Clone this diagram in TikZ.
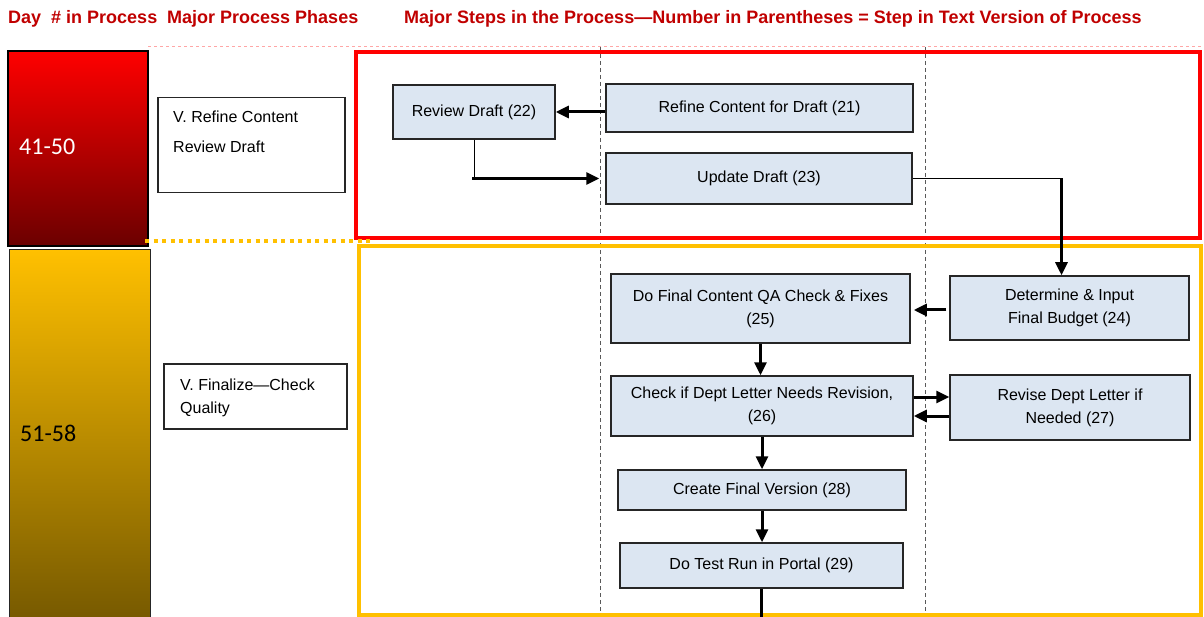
\documentclass[tikz,border=0pt]{standalone}
\usepackage{fontspec}
\setmainfont{Liberation Sans}
\newfontfamily\dayfont{Carlito}
\usetikzlibrary{arrows.meta}

\definecolor{hdrred}{HTML}{C00000}
\definecolor{stepblue}{HTML}{DCE6F2}
\definecolor{gold}{HTML}{FFC000}
\definecolor{boxline}{HTML}{262626}

\def\px{1pt}
\tikzstyle{header}=[anchor=base west,inner sep=0pt,text=hdrred,font=\bfseries\fontsize{18}{20}\selectfont]
\tikzstyle{daytext}=[anchor=west,inner sep=0pt,font=\dayfont\fontsize{24}{28}\selectfont]
\tikzstyle{phase}=[draw=boxline,line width=1.5pt,fill=white,inner sep=0pt,anchor=north west]
\tikzstyle{phasetext}=[anchor=north west,inner sep=0pt,align=left]
\tikzstyle{stepbox}=[draw=boxline,line width=1.5pt,fill=stepblue,inner sep=0pt,align=center,font=\fontsize{16}{23}\selectfont]
\tikzstyle{flow}=[line width=3pt,-{Triangle[length=13pt,width=12pt]}]
\tikzstyle{lane}=[gray!70!black,line width=0.8pt,dash pattern=on 4pt off 3pt]

\begin{document}
\begin{tikzpicture}[x=\px,y=-\px]
       \useasboundingbox (0,0) rectangle (1204,617);
       % column heads
       \node[header] (hday) at (8,24) {Day~~\# in Process};
       \node[header] (hphase) at (167,24) {Major Process Phases};
       \node[header] (hsteps) at (404,24) {Major Steps in the Process—Number in Parentheses = Step in Text Version of Process};

       % day bars
       \draw[black,line width=1.5pt,top color=red,bottom color=red!42!black] (8,51) rectangle (148,246);
       \draw[boxline,line width=1pt,top color=gold,bottom color=gold!45!black] (9,250) rectangle (150,630);
       \node[daytext,text=white] (d1) at (19,147) {41-50};
       \node[daytext,text=black] (d2) at (20,433) {51-58};

       % lanes and phase frames
       \draw[red!35,line width=1pt,dashed] (148,47) -- (1204,47);
       \foreach \x in {600,925} {
           \draw[lane] (\x,47) -- (\x,617);
       }
       \draw[red,line width=4pt] (356,52) rectangle (1200,238);
       \draw[gold,line width=3.5pt] (359,246) rectangle (1201,615);
       \draw[gold,line width=4pt,dash pattern=on 4pt off 4.5pt] (145,241) -- (373,241);

       % phases
       \node[phase,minimum width=187pt,minimum height=95pt] (ph1) at (157,97) {};
       \node[phasetext,font=\fontsize{16}{30}\selectfont] (ph1t) at (173,111) {V. Refine Content\\Review Draft};
       \node[phase,minimum width=183pt,minimum height=65pt] (ph2) at (163,363) {};
       \node[phasetext,font=\fontsize{16}{23}\selectfont] (ph2t) at (180,379) {V. Finalize—Check\\Quality};

       % steps
       \foreach \pos/\name/\w/\h/\txt in {{(474,112)/s22/162/54/Review Draft (22)},
           {(759.5,108)/s21/307/48/Refine Content for Draft (21)},
           {(759,178.5)/s23/306/51/Update Draft (23)},
           {(1069.5,308)/s24/239/64/Determine \& Input\\Final Budget (24)},
           {(760.5,308.5)/s25/299/69/Do Final Content QA Check \& Fixes\\(25)},
           {(762,406)/s26/302/60/Check if Dept Letter Needs Revision,\\(26)},
           {(1070,407.5)/s27/240/65/Revise Dept Letter if\\Needed (27)},
           {(762,490)/s28/288/40/Create Final Version (28)},
           {(761.5,565.5)/s29/283/45/Do Test Run in Portal (29)}} {
           \node[stepbox,minimum width=\w pt,minimum height=\h pt] (\name) at \pos {\txt};
       }

       % connectors
       \draw[flow] (s21.west |- s22.east) -- (s22.east);
       \draw[line width=1pt] (s22.south) -- (s22.south |- s23.west);
       \draw[flow,shorten >=6pt] ([xshift=-2pt]s22.south |- s23.west) -- (s23.west);
       \coordinate (bend) at ([xshift=-8pt]s24.north |- s23.east);
       \draw[line width=1pt] (s23.east) -- (bend);
       \draw[flow] (bend) -- ([xshift=-8pt]s24.north);
       \draw[flow,shorten <=3pt,shorten >=3pt] (s24.west |- 0,310) -- (s25.east |- 0,310);
       \draw[flow] (s25.south) -- (s25.south |- s26.north);
       \draw[flow] ([yshift=9pt]s26.east) -- ([yshift=9pt]s26.east -| s27.west);
       \draw[flow] ([yshift=-10pt]s26.east -| s27.west) -- ([yshift=-10pt]s26.east);
       \draw[flow] (s26.south) -- (s28.north);
       \draw[flow] (s28.south) -- (s28.south |- s29.north);
       \coordinate (out) at (s29.south |- 0,620);
       \draw[line width=3pt] (s29.south) -- (out);
\end{tikzpicture}
\end{document}
